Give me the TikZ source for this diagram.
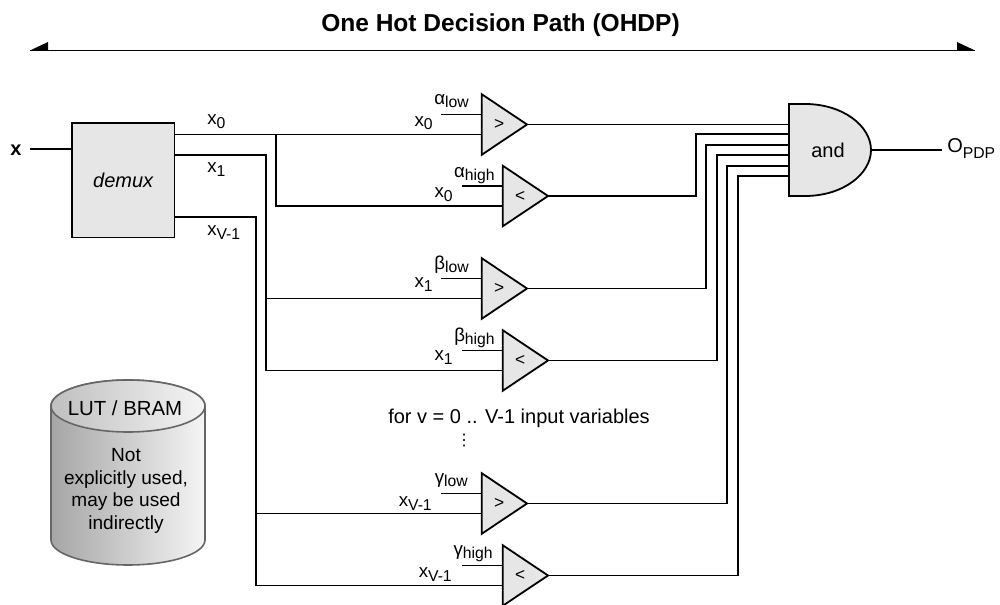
\documentclass[tikz,border=0pt]{standalone}
\usepackage{fontspec}
\setmainfont{Liberation Sans}
\newfontfamily\dotsfont{DejaVu Sans}
\usepackage{tikz}
\usetikzlibrary{shapes.geometric,calc}
\definecolor{gatefill}{HTML}{E6E6E6}
\definecolor{cylline}{HTML}{666666}
\newcommand{\lowtext}[2][2.6pt]{\raisebox{-#1}{\fontsize{11.8}{14}\selectfont #2}}
\tikzset{
    wire/.style={line width=1.35pt},
    gatebox/.style={draw=black,line width=1.35pt,fill=gatefill},
    cmpgate/.style={gatebox,isosceles triangle,isosceles triangle stretches,inner sep=0pt,outer sep=0pt,
        minimum width=45.5pt,minimum height=34pt,anchor=apex,font=\fontsize{13}{15}\selectfont},
    sig/.style={inner sep=0pt,anchor=base east,font=\fontsize{14}{16}\selectfont},
    sigleft/.style={sig,anchor=base west},
    big/.style={inner sep=0pt,font=\fontsize{15}{18}\selectfont}
}
% name, tip x, tip y, sign
\newcommand{\cmpunit}[4]{
    \node[cmpgate] (#1) at (#2,#3) {\hspace{3pt}\raisebox{-1pt}{#4}};
    \coordinate (#1a) at ($(#2,#3)+(-46,-10)$);
    \coordinate (#1b) at ($(#2,#3)+(-46,10)$);
    \coordinate (#1s) at ($(#2,#3)+(-86,-10)$);
}
\begin{document}
\begin{tikzpicture}[x=0.75pt,y=-0.75pt]
    \useasboundingbox (0,0) rectangle (1000,605);

    \node[inner sep=0pt,font=\bfseries\fontsize{18.4}{22}\selectfont] (title) at (500.5,25) {One Hot Decision Path (OHDP)};
    \coordinate (arrowl) at (30,50.5);
    \coordinate (arrowr) at (975,50.5);
    \draw[wire] (arrowl) -- (arrowr);
    \fill (arrowl) -- (48,42) -- (48,51) -- cycle;
    \fill (arrowr) -- (957,42) -- (957,51) -- cycle;

    \node[inner sep=0pt,font=\bfseries\fontsize{15}{18}\selectfont] (xin) at (16,150) {x};
    \node[gatebox,big,minimum width=77pt,minimum height=86pt,anchor=north west,font=\itshape\fontsize{15}{18}\selectfont] (demux) at (71,122) {demux};
    \coordinate (xfree) at (30,149);
    \draw[wire] (xfree) -- (xfree -| demux.west);

    \node[sigleft] at (207,125) {x\lowtext{0}};
    \node[sigleft] at (207,173) {x\lowtext{1}};
    \node[sigleft] at (207,236) {x\lowtext{V-1}};

    \cmpunit{cmpa}{527}{124.5}{>}
    \cmpunit{cmpb}{548}{196}{<}
    \cmpunit{cmpc}{527}{288.5}{>}
    \cmpunit{cmpd}{548}{360.5}{<}
    \cmpunit{cmpe}{527}{503.5}{>}
    \cmpunit{cmpf}{548}{575.5}{<}

    \foreach \c in {cmpa,cmpb,cmpc,cmpd,cmpe,cmpf}{
        \draw[wire] (\c s) -- (\c a);
    }

    \node[sig] at (469,105) {α\lowtext[2pt]{low}};
    \node[sig] at (433,126.5) {x\lowtext{0}};
    \node[sig] at (495,178) {α\lowtext[2pt]{high}};
    \node[sig] at (453,198) {x\lowtext{0}};
    \node[sig] at (469,270) {β\lowtext[2pt]{low}};
    \node[sig] at (433,288) {x\lowtext{1}};
    \node[sig] at (495,342) {β\lowtext[2pt]{high}};
    \node[sig] at (453,361) {x\lowtext{1}};
    \node[sig] at (468,484) {γ\lowtext[2pt]{low}};
    \node[sig] at (432,507) {x\lowtext{V-1}};
    \node[sig] at (493,556) {γ\lowtext[2pt]{high}};
    \node[sig] at (452,578) {x\lowtext{V-1}};

    \coordinate (outa) at (174,134.5);
    \coordinate (outb) at (174,155);
    \coordinate (outc) at (174,217);
    \draw[wire] (outa) -- (cmpab);
    \draw[wire] (276,134.5) |- (cmpbb);
    \draw[wire] (outb) -- (266,155) |- (cmpdb);
    \draw[wire] (266,298.5) -- (cmpcb);
    \draw[wire] (outc) -- (256,217) |- (cmpfb);
    \draw[wire] (256,513.5) -- (cmpeb);

    \draw[gatebox] (789,104) -- (805,104) .. controls (843,104) and (871,126) .. (871,150)
        .. controls (871,174) and (843,196) .. (805,196) -- (789,196) -- cycle;
    \node[big] (andgate) at (828,150) {and};
    \coordinate (anda) at (789,124.5);
    \coordinate (andb) at (789,134);
    \coordinate (andc) at (789,145);
    \coordinate (andd) at (789,155);
    \coordinate (ande) at (789,166);
    \coordinate (andf) at (789,176);
    \draw[wire] (cmpa.apex) -- (anda);
    \draw[wire] (cmpb.apex) -| (696,134) -- (andb);
    \draw[wire] (cmpc.apex) -| (706,145) -- (andc);
    \draw[wire] (cmpd.apex) -| (717,155) -- (andd);
    \draw[wire] (cmpe.apex) -| (727,166) -- (ande);
    \draw[wire] (cmpf.apex) -| (738,176) -- (andf);

    \node[inner sep=0pt,anchor=base west,font=\fontsize{15}{18}\selectfont] (opdp) at (947,153) {O\lowtext[4.5pt]{PDP}};
    \draw[wire] (871,150) -- (942,150);

    \node[big] (forv) at (519,418) {for v = 0 .. V-1 input variables};
    \node[inner sep=0pt,font=\dotsfont\fontsize{12}{14}\selectfont] (vdots) at (464,441) {⋮};

    \draw[draw=cylline,line width=1.2pt,left color=gray!70,right color=gray!8] (51,406) -- (51,540)
        arc[start angle=180,end angle=0,x radius=77,y radius=25] -- (205,406)
        arc[start angle=0,end angle=-180,x radius=77,y radius=26] -- cycle;
    \draw[draw=cylline,line width=1.2pt,left color=gray!50,right color=gray!8] (128,406) ellipse[x radius=77,y radius=26];
    \node[inner sep=0pt,font=\fontsize{15.3}{18}\selectfont] (lut) at (125,408) {LUT / BRAM};
    \node[align=center,inner sep=0pt,font=\fontsize{14.3}{17}\selectfont] (lutnote) at (126,491) {Not\\explicitly used,\\may be used\\indirectly};
\end{tikzpicture}
\end{document}
